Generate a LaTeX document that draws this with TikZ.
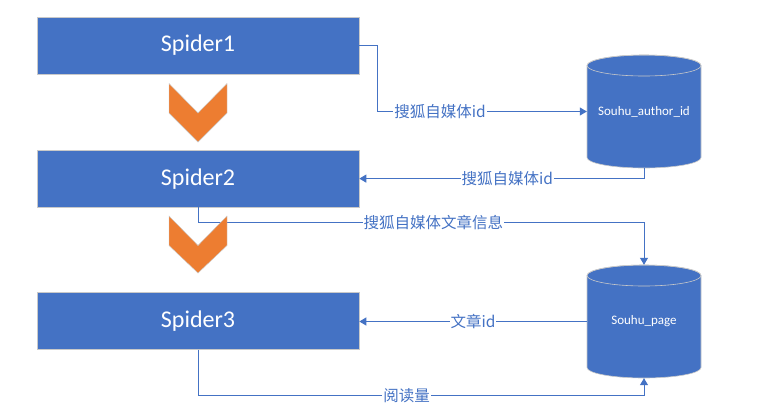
\documentclass[tikz,border=0pt]{standalone}
\usepackage{fontspec}
\setmainfont{Carlito}
\newfontfamily\cjk{Noto Sans CJK SC}
\usetikzlibrary{calc,arrows.meta}
\definecolor{officeblue}{HTML}{4472C4}
\definecolor{officeorange}{HTML}{ED7D31}
\definecolor{rimgrey}{HTML}{C9C9C9}
\def\database(#1)(#2,#3)#4{%
\draw[fill=officeblue, draw=rimgrey, line width=0.6pt] (#2-57, #3-46) -- (#2-57, #3+46) arc[start angle=180, end angle=360, x radius=57pt, y radius=10.5pt] -- (#2+57, #3-46) arc[start angle=0, end angle=180, x radius=57pt, y radius=10.5pt] -- cycle;
\draw[draw=rimgrey, line width=0.6pt] (#2, #3-46) ellipse[x radius=57pt, y radius=10.5pt];
\node[dbtext] (#1) at (#2, #3) {#4};}
\tikzset{
	spider/.style={fill=officeblue, draw=rimgrey, line width=0.6pt, minimum width=322pt, minimum height=57pt, inner sep=0pt, text=white, font=\fontsize{24}{28}\selectfont},
	dbtext/.style={minimum width=114pt, minimum height=113pt, inner sep=0pt, text=white, font=\fontsize{13}{15}\selectfont},
	flow/.style={draw=officeblue, line width=1pt, -{Triangle[length=7pt, width=8pt]}},
	flowlabel/.style={fill=white, text=officeblue, inner sep=1pt, font=\cjk\fontsize{15.5}{18}\selectfont},
	chevron/.style={fill=officeorange, draw=rimgrey, line width=0.4pt}
}

\begin{document}
\begin{tikzpicture}[x=1pt, y=-1pt]
			%%%%% START %%%%%
			
			\useasboundingbox[fill=white] (0, 0) rectangle (769, 416);
			
			\node[spider] (spider1) at (198, 45.5) {Spider1};
			\node[spider] (spider2) at (198, 178.6) {Spider2};
			\node[spider] (spider3) at (198, 320.8) {Spider3};
			
			\database(authordb)(644, 111.5){Souhu\_author\_id}
			\database(pagedb)(644, 321.5){Souhu\_page}
			
			\draw[flow] (spider1.east) -- ++(18, 0) |- (authordb.west) node[flowlabel, pos=0.65] {搜狐自媒体id};
			\draw[flow] (authordb.south) |- (spider2.east) node[flowlabel, pos=0.74] {搜狐自媒体id};
			\draw[flow] (spider2.south) -- ++(0, 15) -| (pagedb.north) node[flowlabel, pos=0.264] {搜狐自媒体文章信息};
			\draw[flow] (pagedb.west) -- (pagedb.west -| spider3.east) node[flowlabel, pos=0.5] {文章id};
			\draw[flow] (spider3.south) -- ++(0, 46) -| (pagedb.south) node[flowlabel, pos=0.234] {阅读量};
			
			\draw[chevron] (169, 83.5) -- (198, 113) -- (227, 83.5) -- (227, 113) -- (198, 142) -- (169, 113) -- cycle;
			\draw[chevron] (169, 216) -- (198, 245.5) -- (227, 216) -- (227, 245.5) -- (198, 273) -- (169, 245.5) -- cycle;
			
			%%%%% END %%%%%
		\end{tikzpicture}
\end{document}
